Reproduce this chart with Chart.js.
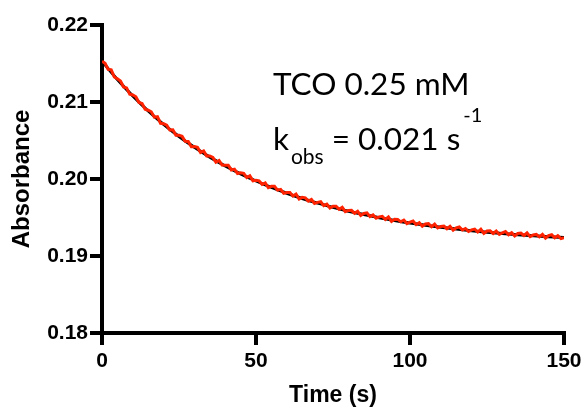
<!DOCTYPE html>
<html>
<head>
<meta charset="utf-8">
<script src="https://cdn.jsdelivr.net/npm/chart.js@4/dist/chart.umd.min.js"></script>
<style>
  html, body { margin: 0; padding: 0; background: #fff; }
  #wrap { width: 586px; height: 411px; position: relative; }
</style>
</head>
<body>
<div id="wrap"><canvas id="c" width="586" height="411"></canvas></div>
<script>
// Time axis (s) for the measured trace, 1 s step
const timeData = [
  0,1,2,3,4,5,6,7,8,9,10,11,12,13,14,15,16,17,18,19,20,21,22,23,24,25,26,27,28,29,
  30,31,32,33,34,35,36,37,38,39,40,41,42,43,44,45,46,47,48,49,50,51,52,53,54,55,56,57,58,59,
  60,61,62,63,64,65,66,67,68,69,70,71,72,73,74,75,76,77,78,79,80,81,82,83,84,85,86,87,88,89,
  90,91,92,93,94,95,96,97,98,99,100,101,102,103,104,105,106,107,108,109,110,111,112,113,114,115,116,117,118,119,
  120,121,122,123,124,125,126,127,128,129,130,131,132,133,134,135,136,137,138,139,140,141,142,143,144,145,146,147,148,149,150
];
// Measured absorbance (red, noisy)
const absorbanceData = [
  0.21530,0.21502,0.21424,0.21417,0.21324,0.21301,0.21273,0.21195,0.21183,0.21100,
  0.21092,0.21068,0.20994,0.20981,0.20907,0.20893,0.20873,0.20803,0.20809,0.20724,
  0.20719,0.20698,0.20636,0.20640,0.20568,0.20567,0.20554,0.20490,0.20487,0.20419,
  0.20421,0.20411,0.20345,0.20365,0.20299,0.20299,0.20281,0.20218,0.20240,0.20182,
  0.20179,0.20179,0.20118,0.20128,0.20072,0.20082,0.20073,0.20019,0.20041,0.19977,
  0.19984,0.19977,0.19930,0.19949,0.19887,0.19905,0.19905,0.19855,0.19865,0.19815,
  0.19825,0.19826,0.19778,0.19804,0.19741,0.19762,0.19755,0.19713,0.19735,0.19683,
  0.19696,0.19705,0.19654,0.19674,0.19623,0.19647,0.19647,0.19607,0.19632,0.19577,
  0.19592,0.19593,0.19554,0.19581,0.19527,0.19553,0.19560,0.19512,0.19534,0.19491,
  0.19508,0.19516,0.19474,0.19506,0.19449,0.19477,0.19475,0.19444,0.19467,0.19421,
  0.19439,0.19453,0.19407,0.19432,0.19386,0.19415,0.19420,0.19380,0.19414,0.19364,
  0.19384,0.19389,0.19354,0.19385,0.19335,0.19365,0.19376,0.19337,0.19357,0.19318,
  0.19339,0.19350,0.19311,0.19347,0.19293,0.19324,0.19326,0.19292,0.19324,0.19280,
  0.19302,0.19319,0.19276,0.19303,0.19260,0.19292,0.19299,0.19266,0.19299,0.19251,
  0.19273,0.19280,0.19248,0.19280,0.19233,0.19265,0.19278,0.19236,0.19263,0.19226,
  0.19239
];
// Fitted curve (black), 5 s step
const fitTime = [0,5,10,15,20,25,30,35,40,45,50,55,60,65,70,75,80,85,90,95,100,105,110,115,120,125,130,135,140,145,150];
const fitData = [
  0.21530,0.21291,0.21077,0.20883,0.20709,0.20552,0.20411,0.20284,0.20169,0.20067,
  0.19974,0.19890,0.19815,0.19747,0.19686,0.19632,0.19582,0.19538,0.19498,0.19462,
  0.19429,0.19400,0.19374,0.19350,0.19329,0.19309,0.19292,0.19277,0.19263,0.19250,
  0.19239
];
// Axis ticks
const xTicks = [0, 50, 100, 150];
const yTicks = [0.18, 0.19, 0.20, 0.21, 0.22];
const xTitle = "Time (s)";
const yTitle = "Absorbance";
const annotLine1 = "TCO 0.25 mM";
const annotK = "k";
const annotSub = "obs";
const annotRest = " = 0.021 s";
const annotSup = "-1";

const measured = timeData.map((t, i) => ({ x: t, y: absorbanceData[i] }));
const fitted = fitTime.map((t, i) => ({ x: t, y: fitData[i] }));

const annotationPlugin = {
  id: 'annot',
  afterDraw(chart) {
    const { ctx, scales } = chart;
    const x0 = scales.x.getPixelForValue(55.5);
    const y1 = scales.y.getPixelForValue(0.21091);
    const y2 = scales.y.getPixelForValue(0.20377);
    ctx.save();
    ctx.fillStyle = '#000';
    ctx.textBaseline = 'alphabetic';
    ctx.textAlign = 'left';
    ctx.font = '31.5px Lato';
    ctx.fillText(annotLine1, x0, y1);
    ctx.fillText(annotK, x0, y2);
    let x = x0 + ctx.measureText(annotK).width + 2;
    ctx.font = '21px Lato';
    ctx.fillText(annotSub, x, y2 + 14);
    x += ctx.measureText(annotSub).width;
    ctx.font = '31.5px Lato';
    ctx.fillText(annotRest, x, y2);
    x += ctx.measureText(annotRest).width + 3;
    ctx.font = '20px Lato';
    ctx.fillText(annotSup, x, y2 - 28);
    ctx.restore();
  }
};

new Chart(document.getElementById('c'), {
  type: 'scatter',
  data: {
    datasets: [
      {
        label: 'Measured',
        data: measured,
        showLine: true,
        borderColor: '#ff2200',
        backgroundColor: '#ff2200',
        borderWidth: 3,
        pointRadius: 0,
        tension: 0,
        order: 1
      },
      {
        label: 'Fit',
        data: fitted,
        showLine: true,
        borderColor: '#000000',
        backgroundColor: '#000000',
        borderWidth: 3,
        pointRadius: 0,
        cubicInterpolationMode: 'monotone',
        order: 2
      }
    ]
  },
  options: {
    responsive: false,
    animation: false,
    devicePixelRatio: 1,
    layout: { padding: { top: 25, right: 22, left: 0, bottom: 0 } },
    plugins: { legend: { display: false }, tooltip: { enabled: false } },
    scales: {
      x: {
        type: 'linear',
        min: 0, max: 150,
        afterFit(scale) { scale.height = 78; },
        afterBuildTicks(scale) { scale.ticks = xTicks.map(v => ({ value: v })); },
        border: { display: true, color: '#000', width: 4 },
        grid: { drawOnChartArea: false, drawTicks: true, tickLength: 12, color: '#000', lineWidth: 4 },
        ticks: {
          color: '#000', padding: 4,
          font: { family: 'Liberation Sans, Arial', weight: 'bold', size: 21 },
          maxRotation: 0
        },
        title: {
          display: true, text: xTitle, color: '#000',
          font: { family: 'Liberation Sans, Arial', weight: 'bold', size: 23 },
          padding: { top: 4, bottom: 2 }
        }
      },
      y: {
        type: 'linear',
        min: 0.18, max: 0.22,
        afterFit(scale) { scale.width = 102; },
        afterBuildTicks(scale) { scale.ticks = yTicks.map(v => ({ value: v })); },
        border: { display: true, color: '#000', width: 4 },
        grid: { drawOnChartArea: false, drawTicks: true, tickLength: 12, color: '#000', lineWidth: 4 },
        ticks: {
          color: '#000', padding: 2,
          font: { family: 'Liberation Sans, Arial', weight: 'bold', size: 21 },
          callback: v => v.toFixed(2)
        },
        title: {
          display: true, text: yTitle, color: '#000',
          font: { family: 'Liberation Sans, Arial', weight: 'bold', size: 24 },
          padding: { top: 8, bottom: 4 }
        }
      }
    }
  },
  plugins: [annotationPlugin]
});
</script>
</body>
</html>
